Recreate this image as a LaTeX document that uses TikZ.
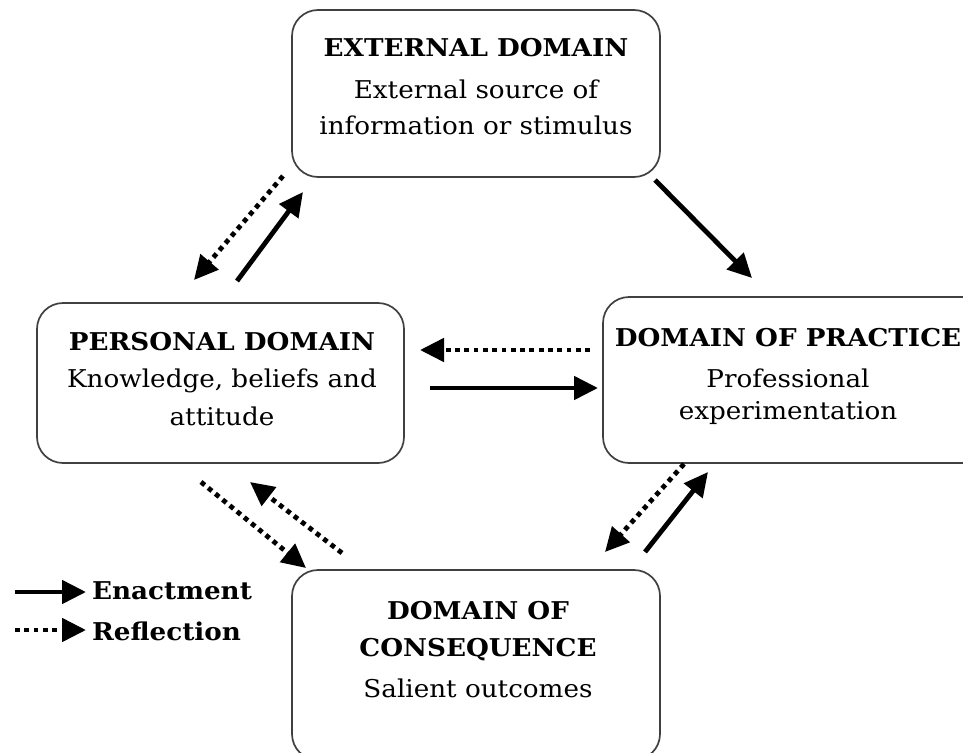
\documentclass[tikz,border=0pt]{standalone}
\usepackage{fontspec}
\setmainfont{DejaVu Serif}[FakeStretch=1.07]
\usetikzlibrary{arrows.meta}
\begin{document}
\begin{tikzpicture}[x=1pt,y=-1pt,
  box/.style={draw=black!75,line width=1.7pt,rounded corners=26pt},
  txt/.style={align=center,font=\fontsize{24.5}{38}\selectfont,inner sep=0pt},
  ttl/.style={font=\fontsize{24.5}{38}\selectfont\bfseries,inner sep=0pt},
  enact/.style={line width=4.8pt,-{Triangle[length=24pt,width=23pt]}},
  reflect/.style={line width=4.8pt,dash pattern=on 4.8pt off 4.5pt,-{Triangle[length=24pt,width=23pt]}},
  lgd/.style={font=\fontsize{24.5}{30}\selectfont\bfseries,inner sep=0pt,anchor=west}]
\useasboundingbox (0,0) rectangle (963,752);
% boxes
\draw[box] (292,10) rectangle (660,177);
\draw[box] (37,303) rectangle (404,463);
\draw[box] (603,297) rectangle (990,463);
\draw[box] (292,570) rectangle (660,760);
% texts
\node[ttl] (t1) at (476,48) {EXTERNAL DOMAIN};
\node[txt] (t1a) at (476,89) {External source of};
\node[txt] (t1b) at (476,125) {information or stimulus};
\node[ttl] (t2) at (222,342) {PERSONAL DOMAIN};
\node[txt] (t2a) at (222,381) {Knowledge, beliefs and};
\node[txt] (t2b) at (222,416) {attitude};
\node[ttl] (t3) at (788,338) {DOMAIN OF PRACTICE};
\node[txt] (t3a) at (788,378) {Professional};
\node[txt] (t3b) at (788,413) {experimentation};
\node[ttl] (t4) at (478,611) {DOMAIN OF};
\node[ttl] (t4a) at (478,650) {CONSEQUENCE};
\node[txt] (t4b) at (478,688) {Salient outcomes};
% coordinates for arrows
\coordinate (a1s) at (283,176); \coordinate (a1e) at (194,280);
\coordinate (a2s) at (237,281); \coordinate (a2e) at (303,192);
\coordinate (a3s) at (655,180); \coordinate (a3e) at (752,278);
\coordinate (a4s) at (590,350); \coordinate (a4e) at (420,350);
\coordinate (a5s) at (430,388); \coordinate (a5e) at (598,388);
\coordinate (a6s) at (201,482); \coordinate (a6e) at (306,568);
\coordinate (a7s) at (342,553); \coordinate (a7e) at (250,482);
\coordinate (a8s) at (684,464); \coordinate (a8e) at (605,552);
\coordinate (a9s) at (645,552); \coordinate (a9e) at (708,472);
\draw[reflect] (a1s) -- (a1e);
\draw[enact] (a2s) -- (a2e);
\draw[enact] (a3s) -- (a3e);
\draw[reflect] (a4s) -- (a4e);
\draw[enact] (a5s) -- (a5e);
\draw[reflect] (a6s) -- (a6e);
\draw[reflect] (a7s) -- (a7e);
\draw[reflect] (a8s) -- (a8e);
\draw[enact] (a9s) -- (a9e);
% legend
\coordinate (l1s) at (15,592); \coordinate (l1e) at (86,592);
\coordinate (l2s) at (15,630); \coordinate (l2e) at (86,630);
\draw[enact] (l1s) -- (l1e);
\draw[reflect] (l2s) -- (l2e);
\node[lgd] (e) at (92,591) {Enactment};
\node[lgd] (r) at (92,631) {Reflection};
\end{tikzpicture}
\end{document}
